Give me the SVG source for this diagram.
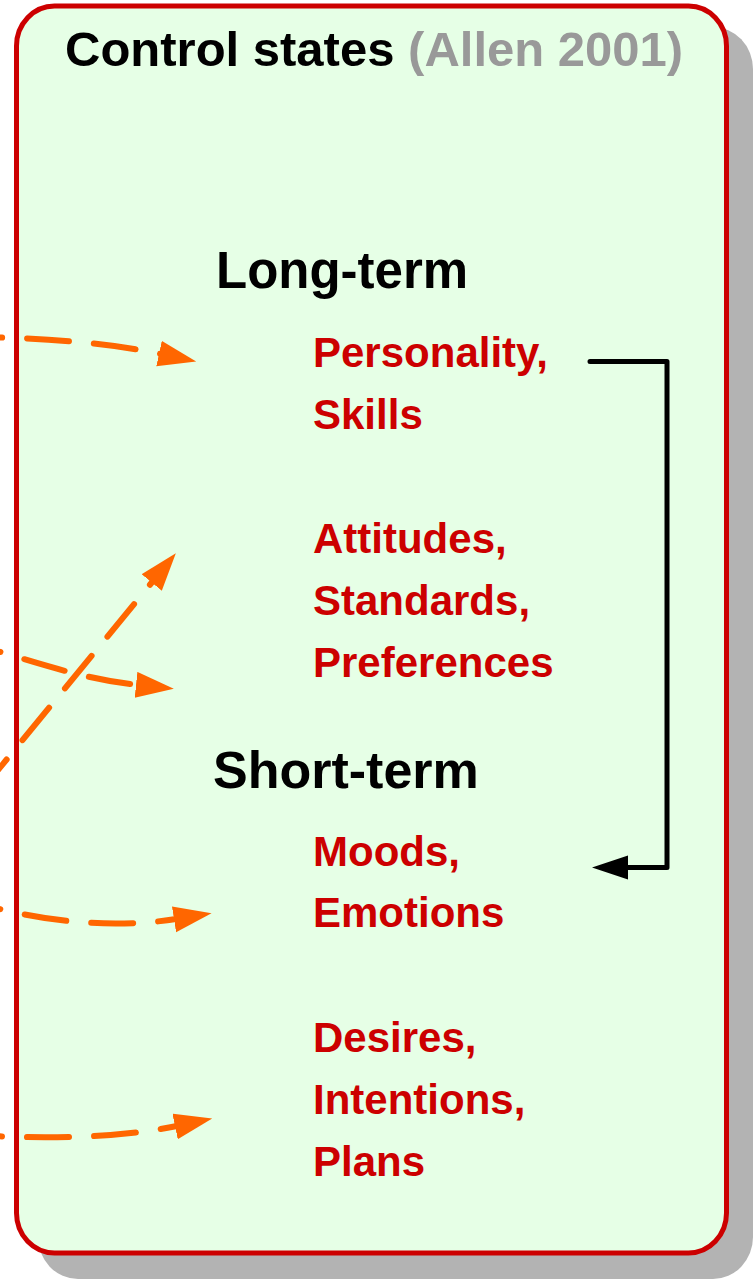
<svg xmlns="http://www.w3.org/2000/svg" width="753" height="1279" viewBox="0 0 753 1279">
<style>
.title{font-family:"Liberation Sans",Arial,sans-serif;font-weight:bold;font-size:49px;fill:#000}
.cite{fill:#999999}
.head{font-family:"Liberation Sans",Arial,sans-serif;font-weight:bold;fill:#000}
.item{font-family:"Liberation Sans",Arial,sans-serif;font-weight:bold;font-size:42px;fill:#cc0000}
.dash{fill:none;stroke:#ff6600;stroke-width:6;stroke-linecap:round;stroke-dasharray:42 25;marker-end:url(#oa)}
.solid{fill:none;stroke:#000;stroke-width:5;stroke-linejoin:round;stroke-linecap:round;marker-end:url(#ba)}
</style>
<defs>
<marker id="oa" markerUnits="userSpaceOnUse" markerWidth="42" markerHeight="30" refX="2" refY="13" orient="auto">
<path d="M0,0 L38,13 L0,26 z" fill="#ff6600"/>
</marker>
<marker id="ba" markerUnits="userSpaceOnUse" markerWidth="40" markerHeight="26" refX="0" refY="12" orient="auto">
<path d="M0,0 L36,12 L0,24 z" fill="#000"/>
</marker>
</defs>
<g id="container">
<rect x="38" y="27" width="715" height="1252" rx="40" ry="42" fill="#b3b3b3"/>
<rect x="16.5" y="6" width="710" height="1247" rx="38" ry="40" fill="#e6ffe6" stroke="#cc0000" stroke-width="5"/>
<text class="title" x="65" y="66">Control states <tspan class="cite">(Allen 2001)</tspan></text>
</g>
<g id="long-term">
<text class="head" x="216" y="288" font-size="51">Long-term</text>
</g>
<g id="personality">
<text class="item" x="313" y="367">Personality,</text>
<text class="item" x="313" y="429">Skills</text>
</g>
<g id="attitudes">
<text class="item" x="313" y="553">Attitudes,</text>
<text class="item" x="313" y="615">Standards,</text>
<text class="item" x="313" y="677">Preferences</text>
</g>
<g id="short-term">
<text class="head" x="213" y="788" font-size="52">Short-term</text>
</g>
<g id="moods">
<text class="item" x="313" y="866">Moods,</text>
<text class="item" x="313" y="927">Emotions</text>
</g>
<g id="desires">
<text class="item" x="313" y="1052">Desires,</text>
<text class="item" x="313" y="1114">Intentions,</text>
<text class="item" x="313" y="1176">Plans</text>
</g>
<g id="connectors">
<path class="dash" d="M-40,337 C40,337 110,343 161,354"/>
<path class="dash" d="M-40,640 C30,660 80,679 138,685"/>
<path class="dash" d="M-20,792 L153,581"/>
<path class="dash" d="M-40,897 C40,925 120,928 176,919"/>
<path class="dash" d="M-40,1134 C40,1140 120,1138 177,1126"/>
<path class="solid" d="M590,361.5 L667,361.5 L667,867.5 L628,867.5"/>
</g>
</svg>
